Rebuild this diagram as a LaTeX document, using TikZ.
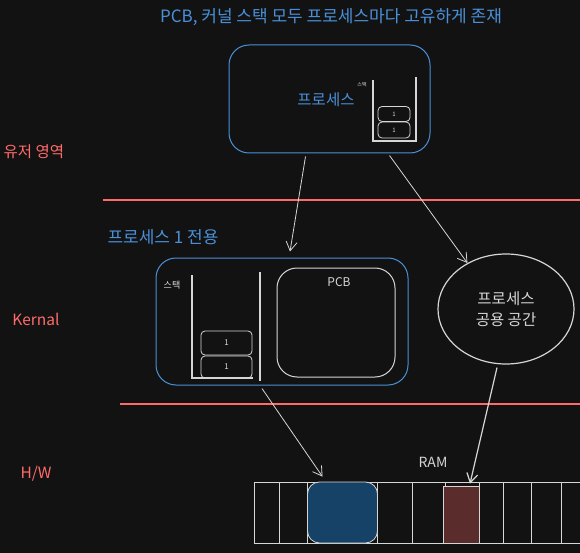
\documentclass[tikz,border=0pt]{standalone}
\usepackage{fontspec}
\setmainfont{Noto Sans CJK KR}
\usetikzlibrary{positioning,arrows.meta,shapes.geometric}
\definecolor{bgdark}{HTML}{121212}
\definecolor{procblue}{HTML}{4A90D9}
\definecolor{layerred}{HTML}{FF6B6B}
\definecolor{chalk}{HTML}{D6D6D6}
\definecolor{ramblue}{HTML}{154266}
\definecolor{ramred}{HTML}{5A2C2C}
\begin{document}
\begin{tikzpicture}[x=1pt,y=-1pt,
procbox/.style={draw=procblue,line width=1pt,rounded corners=20pt},
bluetext/.style={text=procblue,font=\fontsize{16}{18}\selectfont},
redtext/.style={text=layerred,font=\fontsize{15.5}{18}\selectfont},
chalktext/.style={text=chalk,font=\fontsize{12}{14}\selectfont},
stackcell/.style={draw=chalk,line width=0.8pt,rounded corners=4pt,text=chalk,inner sep=0pt},
stackline/.style={draw=chalk,line width=1.2pt},
layerline/.style={draw=layerred,line width=1.6pt},
ptr/.style={draw=chalk,line width=0.8pt,-{Straight Barb[length=9pt,width=11pt]}},
]
\fill[bgdark] (0,0) rectangle (580,553);
\useasboundingbox (0,0) rectangle (580,553);

\node[bluetext,font=\fontsize{17}{19}\selectfont] (title) at (331,17) {PCB, 커널 스택 모두 프로세스마다 고유하게 존재};

\node[procbox,minimum width=201pt,minimum height=108pt] (proc) at (329.5,99) {};
\node[bluetext,font=\fontsize{15.5}{18}\selectfont] (proctext) at (326,100) {프로세스};
\node[text=chalk!70,font=\fontsize{5}{6}\selectfont,inner sep=0pt] (topstacklabel) at (362,85) {스택};
\draw[stackline] (373,80) -- (373,141) -- (416,141) -- (416,77);
\node[stackcell,minimum width=32pt,minimum height=15pt,font=\fontsize{6}{7}\selectfont] (topcella) at (394,114) {1};
\node[stackcell,minimum width=32pt,minimum height=16pt,font=\fontsize{6}{7}\selectfont] (topcellb) at (394,130) {1};

\node[redtext,anchor=west] (user) at (0,152) {유저 영역};
\draw[layerline] (103,200) -- (580,200);

\node[bluetext,font=\fontsize{17}{19}\selectfont] (ownlabel) at (163,237) {프로세스 1 전용};
\node[procbox,minimum width=252pt,minimum height=127pt] (mid) at (282,321.5) {};
\node[text=chalk!80,font=\fontsize{9}{10}\selectfont] (midstacklabel) at (172,285) {스택};
\draw[stackline] (192,275) -- (192,378) -- (253,378);
\draw[stackline] (260,272) -- (260,381);
\node[stackcell,minimum width=51pt,minimum height=24pt,font=\fontsize{8}{9}\selectfont] (midcella) at (226.5,343) {1};
\node[stackcell,minimum width=51pt,minimum height=22pt,font=\fontsize{8}{9}\selectfont] (midcellb) at (226.5,367) {1};
\node[draw=chalk,line width=1pt,rounded corners=20pt,minimum width=118pt,minimum height=109pt] (pcb) at (336,322.5) {};
\node[chalktext] (pcblabel) at (339,282) {PCB};

\node[ellipse,draw=chalk,line width=1.2pt,minimum width=136pt,minimum height=110pt,text=chalk,
      align=center,font=\fontsize{15.5}{21}\selectfont] (shared) at (506,309) {프로세스\\공용 공간};

\node[redtext] (kernel) at (36,319) {Kernal};
\draw[layerline] (120,404) -- (580,404);

\node[redtext] (hw) at (36,474) {H/W};
\node[chalktext,font=\fontsize{14}{16}\selectfont] (ramlabel) at (433,462) {RAM};
\draw[draw=chalk,line width=0.8pt] (254,482) rectangle (585,543);
\foreach \x in {279,307,377,412,445,479,503,531,561}
  \draw[draw=chalk,line width=0.8pt] (\x,482) -- (\x,543);
\node[draw=chalk,fill=ramblue,line width=0.8pt,rounded corners=12pt,minimum width=70pt,minimum height=61pt] (ramb) at (342.5,512.5) {};
\node[draw=chalk,fill=ramred,line width=0.8pt,minimum width=36pt,minimum height=57pt] (ramr) at (461,514.5) {};

\draw[ptr] ([xshift=-24pt,yshift=-3pt]proc.south) -- ([xshift=8pt,yshift=6pt]mid.north);
\draw[ptr] ([xshift=60pt,yshift=-2pt]proc.south) -- (shared.130);
\draw[ptr] ([xshift=-20pt,yshift=-3pt]mid.south) -- ([xshift=-20pt,yshift=5pt]ramb.north);
\draw[ptr,line width=1.2pt] ([xshift=-9pt,yshift=-3pt]shared.south) -- ([xshift=9pt,yshift=2pt]ramr.north);
\end{tikzpicture}
\end{document}
